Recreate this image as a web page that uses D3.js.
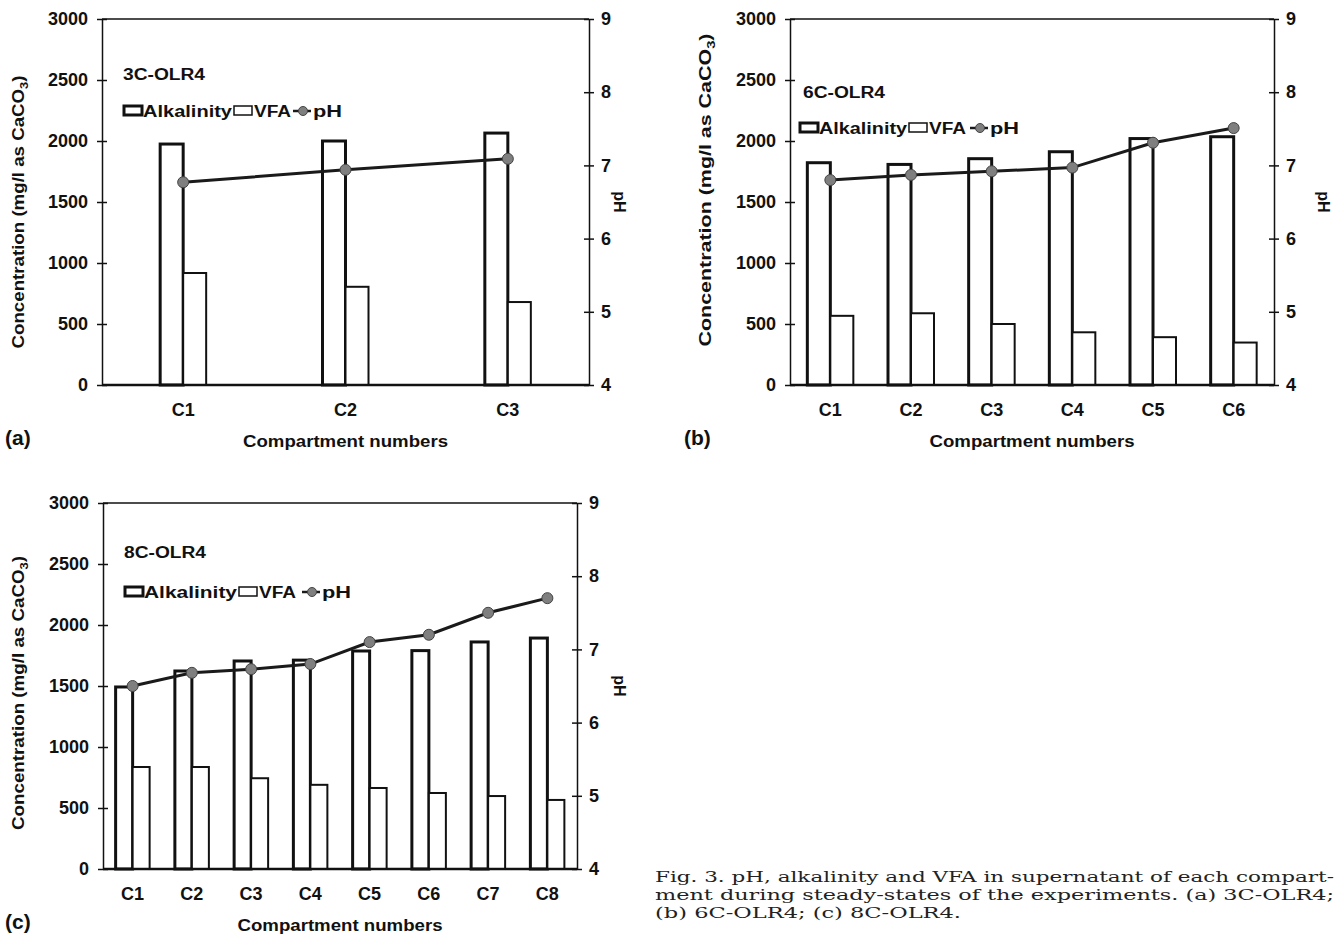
<!DOCTYPE html>
<html lang="en">
<head>
<meta charset="UTF-8">
<title>pH, alkalinity and VFA</title>
<script src="https://cdn.jsdelivr.net/npm/d3@7"></script>
<style>
    body { margin: 0; background: #fff; }
    svg { display: block; }
    text { font-family: "Liberation Sans", Arial, sans-serif; font-weight: bold; fill: #111; }
    .caption { font-family: "DejaVu Serif", "Liberation Serif", serif; font-weight: normal; fill: #222; }
</style>
</head>
<body>
<svg id="chart" width="1344" height="938"></svg>
<script>
// ---- data ----
const concTicks = [0, 500, 1000, 1500, 2000, 2500, 3000];
const phTicks = [4, 5, 6, 7, 8, 9];

const catsA = ["C1", "C2", "C3"];
const alkA = [1975, 2000, 2065];
const vfaA = [918, 805, 680];
const phA = [6.77, 6.94, 7.09];

const catsB = ["C1", "C2", "C3", "C4", "C5", "C6"];
const alkB = [1822, 1808, 1855, 1912, 2020, 2035];
const vfaB = [567, 588, 500, 432, 392, 348];
const phB = [6.80, 6.87, 6.92, 6.97, 7.31, 7.51];

const catsC = ["C1", "C2", "C3", "C4", "C5", "C6", "C7", "C8"];
const alkC = [1492, 1623, 1705, 1712, 1787, 1790, 1861, 1893];
const vfaC = [836, 836, 744, 690, 664, 623, 598, 566];
const phC = [6.50, 6.68, 6.73, 6.80, 7.10, 7.20, 7.50, 7.70];

const captionLines = [
    "Fig. 3. pH, alkalinity and VFA in supernatant of each compart-",
    "ment during steady-states of the experiments. (a) 3C-OLR4;",
    "(b) 6C-OLR4; (c) 8C-OLR4."
];
const captionWidths = [679, 679, 306];

const svg = d3.select("#chart");

function drawPanel(p) {
    const g = svg.append("g");
    const x = d3.scaleBand().domain(p.cats).range([p.left, p.right]);
    const y = d3.scaleLinear().domain([0, 3000]).range([p.bottom, p.top]);
    const y2 = d3.scaleLinear().domain([4, 9]).range([p.bottom, p.top]);
    const mid = c => x(c) + x.bandwidth() / 2;

    // bars
    g.selectAll("rect.alk").data(p.cats).enter().append("rect")
        .attr("x", c => mid(c) - p.barW).attr("width", p.barW)
        .attr("y", (c, i) => y(p.alk[i])).attr("height", (c, i) => y(0) - y(p.alk[i]))
        .attr("fill", "#fff").attr("stroke", "#111").attr("stroke-width", 3);
    g.selectAll("rect.vfa").data(p.cats).enter().append("rect")
        .attr("x", c => mid(c)).attr("width", p.barW)
        .attr("y", (c, i) => y(p.vfa[i])).attr("height", (c, i) => y(0) - y(p.vfa[i]))
        .attr("fill", "#fff").attr("stroke", "#111").attr("stroke-width", 2);

    // frame
    g.append("line").attr("x1", p.left).attr("x2", p.right).attr("y1", p.top).attr("y2", p.top)
        .attr("stroke", "#111").attr("stroke-width", 1.5);
    g.append("line").attr("x1", p.left).attr("x2", p.right).attr("y1", p.bottom).attr("y2", p.bottom)
        .attr("stroke", "#111").attr("stroke-width", 2.5);

    // left axis
    const ax = g.append("g").attr("transform", `translate(${p.left},0)`)
        .call(d3.axisLeft(y).tickValues(concTicks).tickFormat(d3.format("d"))
            .tickSizeInner(5).tickSizeOuter(0).tickPadding(9));
    ax.select(".domain").attr("stroke", "#111").attr("stroke-width", 1.5);
    ax.selectAll(".tick line").attr("x1", 5).attr("stroke", "#111").attr("stroke-width", 1.5);
    ax.selectAll(".tick text").attr("font-size", 18).attr("font-family", null);

    // right axis
    const ax2 = g.append("g").attr("transform", `translate(${p.right},0)`)
        .call(d3.axisRight(y2).tickValues(phTicks).tickFormat(d3.format("d"))
            .tickSizeInner(5).tickSizeOuter(0).tickPadding(7));
    ax2.select(".domain").attr("stroke", "#111").attr("stroke-width", 1.5);
    ax2.selectAll(".tick line").attr("x1", -5).attr("stroke", "#111").attr("stroke-width", 1.5);
    ax2.selectAll(".tick text").attr("font-size", 18).attr("font-family", null);

    // category labels
    g.selectAll("text.cat").data(p.cats).enter().append("text")
        .attr("x", mid).attr("y", p.bottom + 31).attr("text-anchor", "middle")
        .attr("font-size", 18).text(c => c);

    // pH line
    const line = d3.line().x((c) => mid(c)).y((c, i) => y2(p.ph[i]));
    g.append("path").datum(p.cats).attr("d", line)
        .attr("fill", "none").attr("stroke", "#1a1a1a").attr("stroke-width", 3);
    g.selectAll("circle.ph").data(p.cats).enter().append("circle")
        .attr("cx", mid).attr("cy", (c, i) => y2(p.ph[i])).attr("r", 5.5)
        .attr("fill", "#7f7f7f").attr("stroke", "#444").attr("stroke-width", 1);

    // axis titles
    const yl = g.append("text")
        .attr("transform", `translate(${p.yLabelX},${p.yLabelY}) rotate(-90)`)
        .attr("text-anchor", "middle").attr("font-size", 16)
        .attr("textLength", p.yLabelLen).attr("lengthAdjust", "spacingAndGlyphs");
    yl.append("tspan").text("Concentration (mg/l as CaCO");
    yl.append("tspan").attr("font-size", 11).attr("dy", 4).text("3");
    yl.append("tspan").attr("dy", -4).text(")");

    g.append("text")
        .attr("transform", `translate(${p.right + p.phLabelDx},${(p.top + p.bottom) / 2}) rotate(90)`)
        .attr("text-anchor", "middle").attr("font-size", 16).text("pH");

    g.append("text").attr("x", (p.left + p.right) / 2).attr("y", p.bottom + 62)
        .attr("text-anchor", "middle").attr("font-size", 17)
        .attr("textLength", 205).attr("lengthAdjust", "spacingAndGlyphs")
        .text("Compartment numbers");

    g.append("text").attr("x", p.letterX).attr("y", p.bottom + 60)
        .attr("font-size", 21).text(p.letter);

    // title + legend
    g.append("text").attr("x", p.titleX).attr("y", p.titleY).attr("font-size", 16)
        .attr("textLength", 82).attr("lengthAdjust", "spacingAndGlyphs").text(p.title);

    const lg = g.append("g").attr("transform", `translate(${p.legX},${p.legY})`);
    lg.append("rect").attr("x", 1).attr("y", -11).attr("width", 18).attr("height", 9)
        .attr("fill", "#fff").attr("stroke", "#111").attr("stroke-width", 3);
    lg.append("text").attr("x", 20).attr("y", 0).attr("font-size", 16)
        .attr("textLength", p.legGaps[0] - 21).attr("lengthAdjust", "spacingAndGlyphs").text("Alkalinity");
    lg.append("rect").attr("x", p.legGaps[0] + 1).attr("y", -11).attr("width", 18).attr("height", 9)
        .attr("fill", "#fff").attr("stroke", "#111").attr("stroke-width", 1.5);
    lg.append("text").attr("x", p.legGaps[0] + 21).attr("y", 0).attr("font-size", 16)
        .attr("textLength", 37).attr("lengthAdjust", "spacingAndGlyphs").text("VFA");
    lg.append("line").attr("x1", p.legGaps[1]).attr("x2", p.legGaps[1] + 18).attr("y1", -6).attr("y2", -6)
        .attr("stroke", "#1a1a1a").attr("stroke-width", 2.5);
    lg.append("circle").attr("cx", p.legGaps[1] + 10).attr("cy", -6).attr("r", 4.5)
        .attr("fill", "#7f7f7f").attr("stroke", "#444");
    lg.append("text").attr("x", p.legGaps[1] + 20).attr("y", 0).attr("font-size", 16)
        .attr("textLength", 29).attr("lengthAdjust", "spacingAndGlyphs").text("pH");
}

drawPanel({
    cats: catsA, alk: alkA, vfa: vfaA, ph: phA,
    left: 102, right: 589, top: 19, bottom: 385, barW: 23,
    yLabelX: 24, yLabelY: 212, yLabelLen: 273, phLabelDx: 25,
    letter: "(a)", letterX: 5,
    title: "3C-OLR4", titleX: 123, titleY: 80,
    legX: 123, legY: 117, legGaps: [110, 170]
});

drawPanel({
    cats: catsB, alk: alkB, vfa: vfaB, ph: phB,
    left: 790, right: 1274, top: 19, bottom: 385, barW: 23,
    yLabelX: 711, yLabelY: 190, yLabelLen: 313, phLabelDx: 44,
    letter: "(b)", letterX: 684,
    title: "6C-OLR4", titleX: 803, titleY: 98,
    legX: 799, legY: 134, legGaps: [109, 171]
});

drawPanel({
    cats: catsC, alk: alkC, vfa: vfaC, ph: phC,
    left: 103, right: 577, top: 503, bottom: 869, barW: 17,
    yLabelX: 24, yLabelY: 693, yLabelLen: 274, phLabelDx: 37,
    letter: "(c)", letterX: 5,
    title: "8C-OLR4", titleX: 124, titleY: 558,
    legX: 124, legY: 598, legGaps: [114, 178]
});

// caption
svg.selectAll("text.caption").data(captionLines).enter().append("text")
    .attr("class", "caption")
    .attr("x", 655).attr("y", (d, i) => 882 + i * 18)
    .attr("font-size", 15.5)
    .attr("textLength", (d, i) => captionWidths[i])
    .attr("lengthAdjust", "spacingAndGlyphs")
    .text(d => d);
</script>
</body>
</html>
